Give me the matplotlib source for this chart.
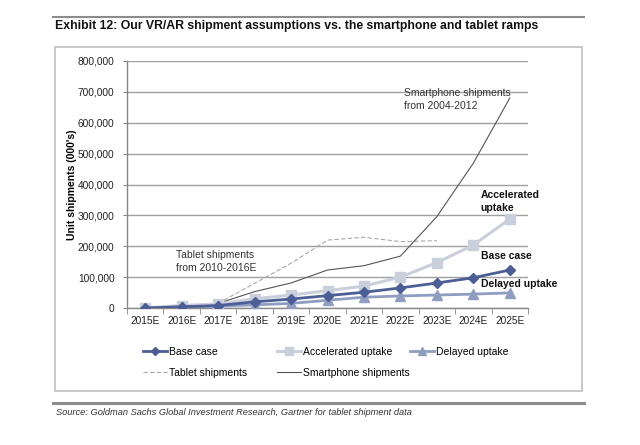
import matplotlib
matplotlib.use("Agg")
import matplotlib.pyplot as plt
from matplotlib.lines import Line2D
from matplotlib.patches import Rectangle
import numpy as np

years = ["2015E", "2016E", "2017E", "2018E", "2019E", "2020E", "2021E",
         "2022E", "2023E", "2024E", "2025E"]
base_case = [0, 4000, 8000, 20000, 29000, 40000, 51000, 65000, 81000, 98000, 123000]
accelerated = [0, 8000, 13000, 30000, 42000, 56000, 71000, 100000, 147000, 204000, 288000]
delayed = [0, 3000, 6000, 10000, 15000, 25000, 35000, 39000, 42000, 45000, 49000]
tablet = [None, None, 15000, 80000, 145000, 220000, 229000, 215000, 218000, None, None]
smartphone = [None, None, 15000, 53000, 81000, 123000, 137000, 168000, 296000, 469000, 680000]
yticks = [0, 100000, 200000, 300000, 400000, 500000, 600000, 700000, 800000]

plt.rcParams['font.family'] = ['Liberation Sans', 'DejaVu Sans']

fig = plt.figure(figsize=(6.4, 4.45), dpi=100)
W, H = 640, 445
def fx(px): return px / W
def fy(py): return 1 - py / H

# frame decorations
fig.add_artist(Line2D([fx(53), fx(584)], [fy(17), fy(17)], color="#8c8c8c", lw=1.5))
fig.add_artist(Line2D([fx(53), fx(584)], [fy(403), fy(403)], color="#8c8c8c", lw=2.2))
fig.add_artist(Rectangle((fx(55), fy(391)), fx(582) - fx(55), fy(47) - fy(391),
                         fill=False, ec="#c0c0c0", lw=1.2, transform=fig.transFigure))
fig.text(fx(55), fy(29), "Exhibit 12: Our VR/AR shipment assumptions vs. the smartphone and tablet ramps",
         fontsize=8.8, fontweight="bold", va="baseline", color="#111111")
fig.text(fx(56), fy(415), "Source: Goldman Sachs Global Investment Research, Gartner for tablet shipment data",
         fontsize=6.7, style="italic", color="#333333", va="baseline")

ax = fig.add_axes([fx(127), fy(308), fx(528) - fx(127), fy(61) - fy(308)])
x = np.arange(len(years))

def arr(v):
    return np.array([np.nan if a is None else a for a in v], dtype=float)

ax.plot(x, arr(tablet), color="#a8a8a8", lw=0.8, ls=(0, (4, 2)), zorder=2)
ax.plot(x, arr(smartphone), color="#555555", lw=0.8, zorder=2)
ax.plot(x, accelerated, color="#c9cfdb", lw=2.2, marker="s", ms=6.5, zorder=3)
ax.plot(x, delayed, color="#8f9dc1", lw=2.0, marker="^", ms=6.5, zorder=4)
ax.plot(x, base_case, color="#4b5f96", lw=2.0, marker="D", ms=5, zorder=5)

ax.set_xlim(-0.5, len(years) - 0.5)
ax.set_ylim(0, 800000)
ax.set_yticks(yticks)
ax.set_yticklabels([f"{v:,}" for v in yticks], fontsize=7.3, color="#222222")
ax.set_xticks(x)
ax.set_xticklabels(years, fontsize=7.3, color="#222222")
ax.set_xticks(np.arange(-0.5, len(years), 1.0), minor=True)
ax.tick_params(axis="x", which="major", length=0, pad=6)
ax.tick_params(axis="x", which="minor", length=4, color="#888888", direction="out")
ax.tick_params(axis="y", length=3, color="#888888", pad=6)
ax.grid(axis="y", color="#a0a0a0", lw=1.0)
ax.set_axisbelow(True)
for s in ["top", "right"]:
    ax.spines[s].set_visible(False)
for s in ["left", "bottom"]:
    ax.spines[s].set_color("#888888")
    ax.spines[s].set_linewidth(1.0)
ax.set_ylabel("Unit shipments (000's)", fontsize=7.5, fontweight="bold")
ax.yaxis.set_label_coords((77 - 127) / 401, 0.5)

ax.text(7.1, 675000, "Smartphone shipments\nfrom 2004-2012", fontsize=7.5, color="#333333",
        va="center", ha="left", linespacing=1.3)
ax.text(0.85, 150000, "Tablet shipments\nfrom 2010-2016E", fontsize=7.5, color="#333333",
        va="center", ha="left", linespacing=1.3)
ax.text(9.2, 345000, "Accelerated\nuptake", fontsize=7.5, fontweight="bold", color="#111111",
        va="center", ha="left", linespacing=1.3)
ax.text(9.2, 170000, "Base case", fontsize=7.5, fontweight="bold", color="#111111",
        va="center", ha="left")
ax.text(9.2, 78000, "Delayed uptake", fontsize=7.5, fontweight="bold", color="#111111",
        va="center", ha="left", clip_on=False)

entries = [
    (Line2D([], [], color="#4b5f96", lw=2.0, marker="D", ms=4), "Base case", 143, 352),
    (Line2D([], [], color="#c9cfdb", lw=2.2, marker="s", ms=5.5), "Accelerated uptake", 277, 352),
    (Line2D([], [], color="#8f9dc1", lw=2.0, marker="^", ms=5.5), "Delayed uptake", 410, 352),
    (Line2D([], [], color="#a8a8a8", lw=0.8, ls=(0, (4, 2))), "Tablet shipments", 143, 373),
    (Line2D([], [], color="#555555", lw=0.8), "Smartphone shipments", 277, 373),
]
for h, lab, px, py in entries:
    fig.legend([h], [lab], loc="center left", bbox_to_anchor=(fx(px), fy(py)),
               frameon=False, fontsize=7.5, handlelength=2.3, handletextpad=0.2,
               borderpad=0, borderaxespad=0, labelspacing=0)

fig.savefig("out.png", dpi=100)
